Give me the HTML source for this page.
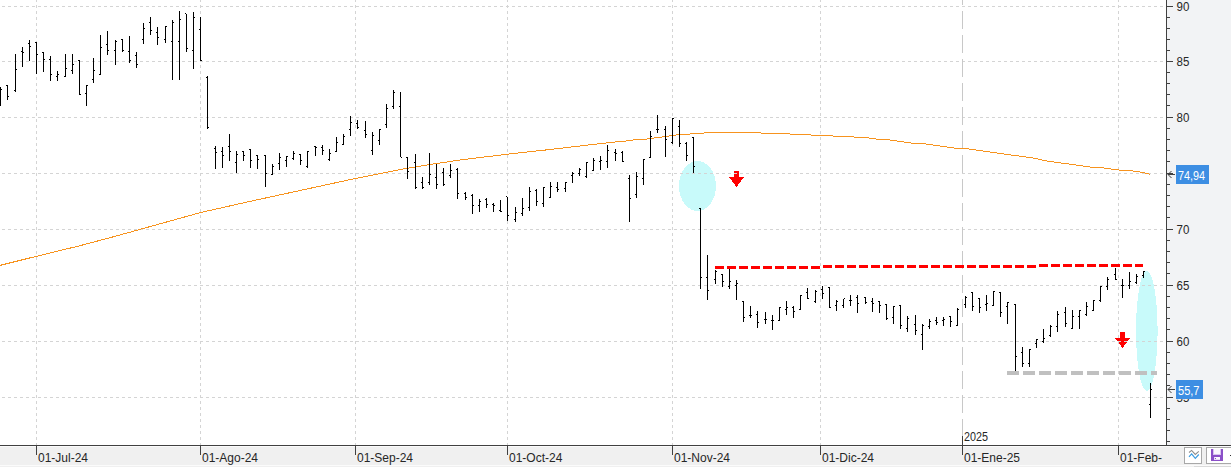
<!DOCTYPE html>
<html><head><meta charset="utf-8"><style>
html,body{margin:0;padding:0;background:#f0f0f0;overflow:hidden;width:1231px;height:467px}
svg{display:block}
.lbl{font-family:"Liberation Sans",sans-serif;font-size:12px;fill:#262626}
.lblw{font-family:"Liberation Sans",sans-serif;font-size:12px;fill:#ffffff}
</style></head><body>
<svg width="1231" height="467" viewBox="0 0 1231 467" shape-rendering="crispEdges">
<rect x="0" y="0" width="1231" height="467" fill="#f0f0f0"/>
<rect x="0" y="0" width="1166" height="445" fill="#ffffff"/>
<rect x="1167" y="0" width="64" height="445" fill="#f2f3f5"/>
<rect x="0" y="446" width="1231" height="1" fill="#fbfbfb"/>
<rect x="0" y="465" width="1231" height="1" fill="#fbfbfb"/>
<ellipse cx="697.5" cy="186" rx="18.5" ry="25" fill="#c8fafa"/>
<ellipse cx="1146.8" cy="330.8" rx="10.8" ry="60" fill="#c8fafa"/>
<path d="M734 171H739V177H744L736.5 187L729 177H734Z" fill="#ff0000"/>
<path d="M1120 332H1125V338H1130L1122.5 348L1115 338H1120Z" fill="#ff0000"/>
<path d="M-4 6.5H1163 M-4 61.5H1163 M-4 117.5H1163 M-4 173.5H1163 M-4 229.5H1163 M-4 285.5H1163 M-4 341.5H1163 M-4 397.5H1163" stroke="#d4d4d4" stroke-width="1" stroke-dasharray="3 3" fill="none"/>
<path d="M36.5 -1V445 M200.5 -1V445 M355.5 -1V445 M507.5 -1V445 M672.5 -1V445 M820.5 -1V445 M1118.5 -1V445" stroke="#d4d4d4" stroke-width="1" stroke-dasharray="3 3" fill="none"/>
<path d="M962.5 -13V437" stroke="#c8c8c8" stroke-width="1" stroke-dasharray="18 6" fill="none"/>
<path d="M715 267.5H820" stroke="#ff0000" stroke-width="3" stroke-dasharray="9 3" fill="none"/>
<path d="M823 266.5H1036" stroke="#ff0000" stroke-width="3" stroke-dasharray="9 3" fill="none"/>
<path d="M1039 265.5H1143" stroke="#ff0000" stroke-width="3" stroke-dasharray="9 3" fill="none"/>
<path d="M1007 373H1157" stroke="#c0c0c0" stroke-width="4" stroke-dasharray="12 4" fill="none"/>
<polyline points="0,265.4 36.4,256.3 78,246.2 117,235.8 160,223.8 200.7,212.5 254,200.5 300,190.5 355.2,178.5 404,168.8 430,164.5 460,160.0 507.4,154.2 551,149.4 590,144.8 620,141.5 625.8,141 633,140 647.3,139 653.8,138 661.6,137 669.4,136 676.5,135 690.2,134 704.5,133 733,132.4 761,133 789.7,134 811,135 833,136 854,137 869,138 876,139 890,140 897,141 904,142 911,143 926,144 933,145 940,146 947,147 954.2,148 969,149 976.3,150 983,151 990.2,152 997.1,153 1004.1,154 1011.4,155 1018.8,156 1026,157 1033.1,158 1038.3,159 1042.2,160 1047,161 1054.3,162 1061.3,163 1068.9,164 1076,165 1083.2,166 1090,167 1103.9,168 1111.1,169 1118.9,170 1132.8,171 1140.1,172 1145,173 1148.7,174 1150,174.4" stroke="#f7931e" stroke-width="1" fill="none"/>
<path d="M0 87h1v19h-1zM1 89h1v1h-1zM7 85h1v15h-1zM6 85h1v1h-1zM8 96h1v1h-1zM15 54h1v38h-1zM14 90h1v1h-1zM16 69h1v1h-1zM22 47h1v20h-1zM21 51h1v1h-1zM23 52h1v1h-1zM29 40h1v21h-1zM28 43h1v1h-1zM30 46h1v1h-1zM36 42h1v32h-1zM35 42h1v1h-1zM37 54h1v1h-1zM43 52h1v20h-1zM42 52h1v1h-1zM44 59h1v1h-1zM50 56h1v25h-1zM49 59h1v1h-1zM51 74h1v1h-1zM57 71h1v10h-1zM56 76h1v1h-1zM58 74h1v1h-1zM65 54h1v23h-1zM64 76h1v1h-1zM66 68h1v1h-1zM72 54h1v20h-1zM71 70h1v1h-1zM73 64h1v1h-1zM79 60h1v35h-1zM78 60h1v1h-1zM80 94h1v1h-1zM86 85h1v21h-1zM85 93h1v1h-1zM87 85h1v1h-1zM93 58h1v25h-1zM92 79h1v1h-1zM94 70h1v1h-1zM100 35h1v40h-1zM99 74h1v1h-1zM101 47h1v1h-1zM107 31h1v24h-1zM106 44h1v1h-1zM108 50h1v1h-1zM115 40h1v25h-1zM114 50h1v1h-1zM116 41h1v1h-1zM122 39h1v13h-1zM121 39h1v1h-1zM123 50h1v1h-1zM129 36h1v27h-1zM128 51h1v1h-1zM130 60h1v1h-1zM136 52h1v16h-1zM135 55h1v1h-1zM137 64h1v1h-1zM143 23h1v21h-1zM142 39h1v1h-1zM144 28h1v1h-1zM150 17h1v18h-1zM149 22h1v1h-1zM151 30h1v1h-1zM157 27h1v18h-1zM156 32h1v1h-1zM158 37h1v1h-1zM165 26h1v17h-1zM164 39h1v1h-1zM166 26h1v1h-1zM172 20h1v60h-1zM171 41h1v1h-1zM173 22h1v1h-1zM179 11h1v69h-1zM178 41h1v1h-1zM180 19h1v1h-1zM186 14h1v38h-1zM185 13h1v1h-1zM187 48h1v1h-1zM193 12h1v57h-1zM192 50h1v1h-1zM194 17h1v1h-1zM200 17h1v44h-1zM199 29h1v1h-1zM201 60h1v1h-1zM207 76h1v53h-1zM206 77h1v1h-1zM208 127h1v1h-1zM215 146h1v23h-1zM214 148h1v1h-1zM216 152h1v1h-1zM222 147h1v21h-1zM221 151h1v1h-1zM223 155h1v1h-1zM229 134h1v27h-1zM228 146h1v1h-1zM230 151h1v1h-1zM236 151h1v22h-1zM235 162h1v1h-1zM237 154h1v1h-1zM243 151h1v10h-1zM242 151h1v1h-1zM244 155h1v1h-1zM250 149h1v19h-1zM249 149h1v1h-1zM251 160h1v1h-1zM257 155h1v14h-1zM256 155h1v1h-1zM258 159h1v1h-1zM265 155h1v32h-1zM264 155h1v1h-1zM266 173h1v1h-1zM272 164h1v11h-1zM271 174h1v1h-1zM273 166h1v1h-1zM279 153h1v17h-1zM278 163h1v1h-1zM280 157h1v1h-1zM286 156h1v11h-1zM285 160h1v1h-1zM287 156h1v1h-1zM293 151h1v9h-1zM292 158h1v1h-1zM294 153h1v1h-1zM300 154h1v11h-1zM299 154h1v1h-1zM301 160h1v1h-1zM307 151h1v17h-1zM306 166h1v1h-1zM308 151h1v1h-1zM315 146h1v10h-1zM314 146h1v1h-1zM316 147h1v1h-1zM322 145h1v10h-1zM321 147h1v1h-1zM323 150h1v1h-1zM329 149h1v12h-1zM328 159h1v1h-1zM330 153h1v1h-1zM336 137h1v15h-1zM335 151h1v1h-1zM337 142h1v1h-1zM343 134h1v11h-1zM342 144h1v1h-1zM344 136h1v1h-1zM350 116h1v20h-1zM349 129h1v1h-1zM351 122h1v1h-1zM357 120h1v9h-1zM356 123h1v1h-1zM358 127h1v1h-1zM365 121h1v17h-1zM364 130h1v1h-1zM366 134h1v1h-1zM372 132h1v23h-1zM371 150h1v1h-1zM373 135h1v1h-1zM379 129h1v16h-1zM378 140h1v1h-1zM380 129h1v1h-1zM386 104h1v24h-1zM385 124h1v1h-1zM387 108h1v1h-1zM393 90h1v19h-1zM392 106h1v1h-1zM394 92h1v1h-1zM400 92h1v65h-1zM399 106h1v1h-1zM401 157h1v1h-1zM407 157h1v22h-1zM406 157h1v1h-1zM408 171h1v1h-1zM415 154h1v35h-1zM414 162h1v1h-1zM416 187h1v1h-1zM422 177h1v12h-1zM421 182h1v1h-1zM423 187h1v1h-1zM429 153h1v32h-1zM428 182h1v1h-1zM430 174h1v1h-1zM436 164h1v25h-1zM435 177h1v1h-1zM437 184h1v1h-1zM443 168h1v18h-1zM442 172h1v1h-1zM444 184h1v1h-1zM450 164h1v14h-1zM449 175h1v1h-1zM451 170h1v1h-1zM457 168h1v31h-1zM456 169h1v1h-1zM458 193h1v1h-1zM465 192h1v8h-1zM464 193h1v1h-1zM466 197h1v1h-1zM472 194h1v20h-1zM471 195h1v1h-1zM473 205h1v1h-1zM479 199h1v13h-1zM478 205h1v1h-1zM480 201h1v1h-1zM486 198h1v10h-1zM485 199h1v1h-1zM487 204h1v1h-1zM493 203h1v9h-1zM492 204h1v1h-1zM494 205h1v1h-1zM500 200h1v12h-1zM499 210h1v1h-1zM501 211h1v1h-1zM507 197h1v24h-1zM506 196h1v1h-1zM508 215h1v1h-1zM515 207h1v15h-1zM514 219h1v1h-1zM516 212h1v1h-1zM522 198h1v18h-1zM521 213h1v1h-1zM523 208h1v1h-1zM529 187h1v24h-1zM528 207h1v1h-1zM530 191h1v1h-1zM536 189h1v17h-1zM535 190h1v1h-1zM537 201h1v1h-1zM543 187h1v20h-1zM542 203h1v1h-1zM544 187h1v1h-1zM550 182h1v16h-1zM549 197h1v1h-1zM551 186h1v1h-1zM557 182h1v10h-1zM556 187h1v1h-1zM558 189h1v1h-1zM565 182h1v10h-1zM564 188h1v1h-1zM566 182h1v1h-1zM572 172h1v11h-1zM571 175h1v1h-1zM573 173h1v1h-1zM579 168h1v8h-1zM578 173h1v1h-1zM580 169h1v1h-1zM586 162h1v16h-1zM585 176h1v1h-1zM587 162h1v1h-1zM593 158h1v13h-1zM592 170h1v1h-1zM594 160h1v1h-1zM600 156h1v14h-1zM599 161h1v1h-1zM601 160h1v1h-1zM607 145h1v23h-1zM606 161h1v1h-1zM608 150h1v1h-1zM615 149h1v12h-1zM614 152h1v1h-1zM616 153h1v1h-1zM622 151h1v11h-1zM621 152h1v1h-1zM623 161h1v1h-1zM629 175h1v47h-1zM628 178h1v1h-1zM630 198h1v1h-1zM636 172h1v26h-1zM635 194h1v1h-1zM637 176h1v1h-1zM643 159h1v26h-1zM642 178h1v1h-1zM644 159h1v1h-1zM650 131h1v27h-1zM649 157h1v1h-1zM651 136h1v1h-1zM657 115h1v18h-1zM656 129h1v1h-1zM658 129h1v1h-1zM665 126h1v31h-1zM664 129h1v1h-1zM666 139h1v1h-1zM672 118h1v26h-1zM671 142h1v1h-1zM673 118h1v1h-1zM679 120h1v27h-1zM678 126h1v1h-1zM680 143h1v1h-1zM686 142h1v19h-1zM685 143h1v1h-1zM687 155h1v1h-1zM693 137h1v36h-1zM692 137h1v1h-1zM694 166h1v1h-1zM700 208h1v81h-1zM699 208h1v1h-1zM701 277h1v1h-1zM707 255h1v45h-1zM706 277h1v1h-1zM708 290h1v1h-1zM715 270h1v14h-1zM714 279h1v1h-1zM716 271h1v1h-1zM722 274h1v13h-1zM721 274h1v1h-1zM723 281h1v1h-1zM729 269h1v20h-1zM728 286h1v1h-1zM730 281h1v1h-1zM736 280h1v20h-1zM735 285h1v1h-1zM737 283h1v1h-1zM743 301h1v21h-1zM742 301h1v1h-1zM744 317h1v1h-1zM750 306h1v12h-1zM749 315h1v1h-1zM751 315h1v1h-1zM757 311h1v17h-1zM756 314h1v1h-1zM758 322h1v1h-1zM765 312h1v12h-1zM764 319h1v1h-1zM766 319h1v1h-1zM772 315h1v15h-1zM771 320h1v1h-1zM773 320h1v1h-1zM779 307h1v14h-1zM778 320h1v1h-1zM780 307h1v1h-1zM786 301h1v14h-1zM785 309h1v1h-1zM787 307h1v1h-1zM793 306h1v12h-1zM792 307h1v1h-1zM794 311h1v1h-1zM800 295h1v15h-1zM799 309h1v1h-1zM801 295h1v1h-1zM807 288h1v11h-1zM806 292h1v1h-1zM808 298h1v1h-1zM815 290h1v13h-1zM814 301h1v1h-1zM816 291h1v1h-1zM822 286h1v13h-1zM821 289h1v1h-1zM823 293h1v1h-1zM829 287h1v21h-1zM828 287h1v1h-1zM830 307h1v1h-1zM836 300h1v11h-1zM835 305h1v1h-1zM837 301h1v1h-1zM843 299h1v9h-1zM842 305h1v1h-1zM844 298h1v1h-1zM850 295h1v11h-1zM849 300h1v1h-1zM851 300h1v1h-1zM857 295h1v18h-1zM856 297h1v1h-1zM858 303h1v1h-1zM865 297h1v7h-1zM864 297h1v1h-1zM866 302h1v1h-1zM872 298h1v14h-1zM871 301h1v1h-1zM873 303h1v1h-1zM879 301h1v12h-1zM878 301h1v1h-1zM880 305h1v1h-1zM886 304h1v16h-1zM885 304h1v1h-1zM887 318h1v1h-1zM893 306h1v18h-1zM892 317h1v1h-1zM894 306h1v1h-1zM900 305h1v24h-1zM899 305h1v1h-1zM901 325h1v1h-1zM907 316h1v16h-1zM906 328h1v1h-1zM908 318h1v1h-1zM915 315h1v20h-1zM914 324h1v1h-1zM916 330h1v1h-1zM922 324h1v26h-1zM921 334h1v1h-1zM923 325h1v1h-1zM929 319h1v10h-1zM928 326h1v1h-1zM930 321h1v1h-1zM936 317h1v8h-1zM935 320h1v1h-1zM937 322h1v1h-1zM943 317h1v9h-1zM942 320h1v1h-1zM944 319h1v1h-1zM950 316h1v11h-1zM949 316h1v1h-1zM951 321h1v1h-1zM957 308h1v18h-1zM956 325h1v1h-1zM958 309h1v1h-1zM965 296h1v12h-1zM964 304h1v1h-1zM966 297h1v1h-1zM972 292h1v19h-1zM971 292h1v1h-1zM973 306h1v1h-1zM979 298h1v15h-1zM978 298h1v1h-1zM980 307h1v1h-1zM986 295h1v16h-1zM985 304h1v1h-1zM987 303h1v1h-1zM993 291h1v15h-1zM992 305h1v1h-1zM994 291h1v1h-1zM1000 292h1v25h-1zM999 292h1v1h-1zM1001 312h1v1h-1zM1007 302h1v22h-1zM1006 306h1v1h-1zM1008 302h1v1h-1zM1015 304h1v67h-1zM1014 304h1v1h-1zM1016 356h1v1h-1zM1022 347h1v20h-1zM1021 352h1v1h-1zM1023 363h1v1h-1zM1029 349h1v18h-1zM1028 363h1v1h-1zM1030 349h1v1h-1zM1036 339h1v9h-1zM1035 343h1v1h-1zM1037 339h1v1h-1zM1043 329h1v14h-1zM1042 341h1v1h-1zM1044 338h1v1h-1zM1050 325h1v12h-1zM1049 335h1v1h-1zM1051 326h1v1h-1zM1057 311h1v21h-1zM1056 326h1v1h-1zM1058 314h1v1h-1zM1065 307h1v20h-1zM1064 312h1v1h-1zM1066 323h1v1h-1zM1072 310h1v19h-1zM1071 328h1v1h-1zM1073 316h1v1h-1zM1079 310h1v19h-1zM1078 316h1v1h-1zM1080 310h1v1h-1zM1086 302h1v14h-1zM1085 314h1v1h-1zM1087 306h1v1h-1zM1093 300h1v11h-1zM1092 310h1v1h-1zM1094 300h1v1h-1zM1100 286h1v16h-1zM1099 300h1v1h-1zM1101 286h1v1h-1zM1107 277h1v13h-1zM1106 286h1v1h-1zM1108 279h1v1h-1zM1115 268h1v12h-1zM1114 274h1v1h-1zM1116 279h1v1h-1zM1122 279h1v19h-1zM1121 285h1v1h-1zM1123 285h1v1h-1zM1129 272h1v17h-1zM1128 285h1v1h-1zM1130 281h1v1h-1zM1136 274h1v10h-1zM1135 282h1v1h-1zM1137 276h1v1h-1zM1143 271h1v7h-1zM1142 275h1v1h-1zM1144 271h1v1h-1zM1150 383h1v35h-1zM1149 404h1v1h-1zM1151 389h1v1h-1z" fill="#000000"/>
<rect x="0" y="445" width="1231" height="1" fill="#404040"/>
<rect x="1166" y="0" width="1" height="445" fill="#404040"/>
<path d="M1167 6h6v1h-6zM1167 17h3v1h-3zM1167 28h3v1h-3zM1167 39h3v1h-3zM1167 50h3v1h-3zM1167 61h6v1h-6zM1167 72h3v1h-3zM1167 83h3v1h-3zM1167 94h3v1h-3zM1167 105h3v1h-3zM1167 117h6v1h-6zM1167 128h3v1h-3zM1167 139h3v1h-3zM1167 150h3v1h-3zM1167 161h3v1h-3zM1167 173h6v1h-6zM1167 184h3v1h-3zM1167 195h3v1h-3zM1167 206h3v1h-3zM1167 217h3v1h-3zM1167 229h6v1h-6zM1167 240h3v1h-3zM1167 251h3v1h-3zM1167 262h3v1h-3zM1167 273h3v1h-3zM1167 285h6v1h-6zM1167 296h3v1h-3zM1167 307h3v1h-3zM1167 318h3v1h-3zM1167 329h3v1h-3zM1167 341h6v1h-6zM1167 352h3v1h-3zM1167 363h3v1h-3zM1167 374h3v1h-3zM1167 385h3v1h-3zM1167 397h6v1h-6zM1167 408h3v1h-3zM1167 419h3v1h-3zM1167 430h3v1h-3zM1167 441h3v1h-3z" fill="#404040"/>
<text x="1176.5" y="11" class="lbl" textLength="12.8" lengthAdjust="spacingAndGlyphs">90</text>
<text x="1176.5" y="66" class="lbl" textLength="12.8" lengthAdjust="spacingAndGlyphs">85</text>
<text x="1176.5" y="122" class="lbl" textLength="12.8" lengthAdjust="spacingAndGlyphs">80</text>
<text x="1176.5" y="178" class="lbl" textLength="12.8" lengthAdjust="spacingAndGlyphs">75</text>
<text x="1176.5" y="234" class="lbl" textLength="12.8" lengthAdjust="spacingAndGlyphs">70</text>
<text x="1176.5" y="290" class="lbl" textLength="12.8" lengthAdjust="spacingAndGlyphs">65</text>
<text x="1176.5" y="346" class="lbl" textLength="12.8" lengthAdjust="spacingAndGlyphs">60</text>
<text x="1176.5" y="402" class="lbl" textLength="12.8" lengthAdjust="spacingAndGlyphs">55</text>
<text x="38" y="462" class="lbl">01-Jul-24</text>
<text x="202" y="462" class="lbl">01-Ago-24</text>
<text x="357" y="462" class="lbl">01-Sep-24</text>
<text x="509" y="462" class="lbl">01-Oct-24</text>
<text x="674" y="462" class="lbl">01-Nov-24</text>
<text x="822" y="462" class="lbl">01-Dic-24</text>
<text x="964" y="462" class="lbl">01-Ene-25</text>
<text x="1120" y="462" class="lbl">01-Feb-</text>
<path d="M36 445h1v10h-1zM200 445h1v10h-1zM355 445h1v10h-1zM507 445h1v10h-1zM672 445h1v10h-1zM820 445h1v10h-1zM962 445h1v10h-1zM1118 445h1v10h-1zM962 436h1v9h-1z" fill="#404040"/>
<text x="964" y="441" class="lbl" textLength="24" lengthAdjust="spacingAndGlyphs">2025</text>
<rect x="1176" y="165" width="33" height="19" fill="#3d8ee3"/>
<text x="1178" y="180" class="lblw" textLength="27" lengthAdjust="spacingAndGlyphs">74,94</text>
<rect x="1176" y="380" width="27" height="19" fill="#3d8ee3"/>
<text x="1178" y="395" class="lblw" textLength="21.5" lengthAdjust="spacingAndGlyphs">55,7</text>
<path d="M1168 174.5H1175M1168 174.5L1171.5 171M1168 174.5L1171.5 178" stroke="#404040" stroke-width="1" fill="none" shape-rendering="auto"/>
<path d="M1168 389.5H1175M1168 389.5L1171.5 386M1168 389.5L1171.5 393" stroke="#404040" stroke-width="1" fill="none" shape-rendering="auto"/>
<rect x="1184.5" y="447.5" width="17" height="16" fill="#ffffff" stroke="#a8a8a8"/>
<polyline points="1189,452.5 1191.6,450.4 1195.3,454.4 1198.8,451.3" stroke="#8c8c8c" stroke-width="1.05" fill="none" shape-rendering="auto"/>
<polyline points="1189,456.8 1191.6,453.8 1195.3,458.4 1198.8,454.5" stroke="#3b9be0" stroke-width="1.15" fill="none" shape-rendering="auto"/>
<rect x="1206.5" y="447.5" width="30" height="16" fill="#ffffff" stroke="#a8a8a8"/>
<rect x="1211" y="449" width="12" height="12" fill="#8b50c8"/>
<rect x="1213" y="449" width="8" height="6" fill="#d9c6ef"/>
<rect x="1214" y="449" width="6" height="5" fill="#fbf8fe"/>
<rect x="1214" y="457" width="6" height="3" fill="#e9dcf6"/>
<rect x="1215" y="457" width="5" height="2" fill="#fbf8fe"/>
<rect x="1215" y="458" width="1" height="1" fill="#8b50c8"/>
<rect x="1230" y="455" width="1" height="1" fill="#303030"/>
<rect x="1194" y="466" width="37" height="1" fill="#dadada"/>
</svg>
</body></html>
